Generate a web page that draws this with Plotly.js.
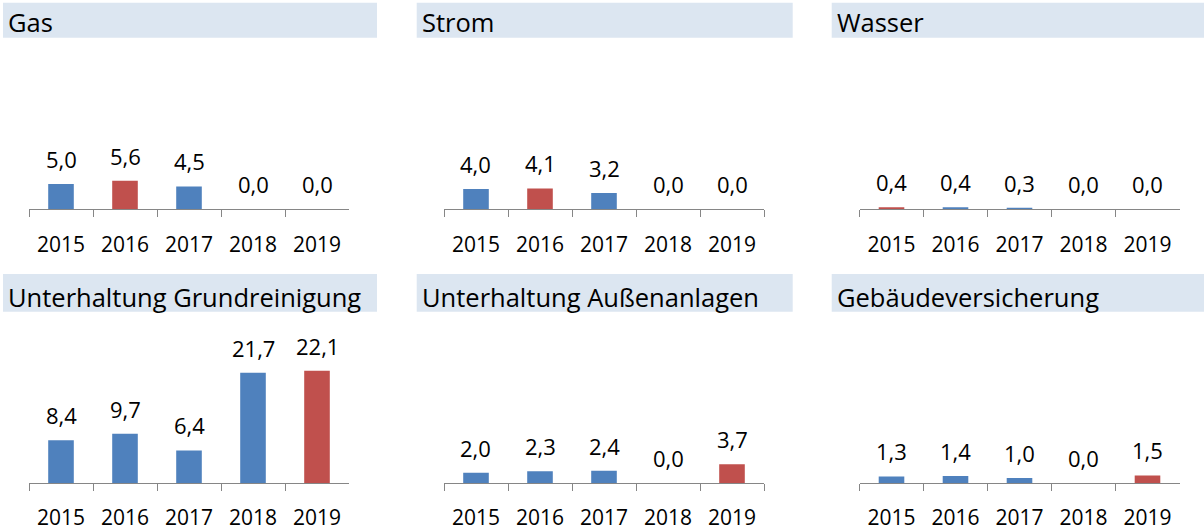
<!DOCTYPE html>
<html>
<head>
<meta charset="utf-8">
<script src="https://cdn.plot.ly/plotly-3.0.1.min.js"></script>
<style>html,body{margin:0;padding:0;background:#fff;}#chart{width:1204px;height:531px;}</style>
</head>
<body>
<div id="chart"></div>
<script>
// ---- data ----
const years = ["2015", "2016", "2017", "2018", "2019"];
const panelTitles = ["Gas", "Strom", "Wasser", "Unterhaltung Grundreinigung", "Unterhaltung Außenanlagen", "Gebäudeversicherung"];
const gas = [5.0, 5.6, 4.5, 0.0, 0.0];
const strom = [4.0, 4.1, 3.2, 0.0, 0.0];
const wasser = [0.4, 0.4, 0.3, 0.0, 0.0];
const grundreinigung = [8.4, 9.7, 6.4, 21.7, 22.1];
const aussenanlagen = [2.0, 2.3, 2.4, 0.0, 3.7];
const versicherung = [1.3, 1.4, 1.0, 0.0, 1.5];
const highlightYear = ["2016", "2016", "2015", "2019", "2019", "2019"];

// ---- layout helpers ----
const W = 1204, H = 531;
const series = [gas, strom, wasser, grundreinigung, aussenanlagen, versicherung];
const BLUE = "#4f81bd", RED = "#c0504d";
const FONT = "'Open Sans', Lato, sans-serif";
const colsPx = [[29, 349], [444, 764], [859.5, 1179.5]];
const rowsPx = [[40.6, 209.3], [314.3, 483]];
const headerX = [[3, 377], [416.7, 792.7], [831.7, 1204]];
const headerY = [[2.7, 37.7], [274, 311.7]];
const titleShift = [-2, -4];
const YMAX = 33.2;

const data = [];
const layout = {
  width: W, height: H,
  margin: {l: 0, r: 0, t: 0, b: 0, pad: 0},
  paper_bgcolor: "#fff", plot_bgcolor: "rgba(0,0,0,0)",
  showlegend: false,
  bargap: 0.6,
  font: {family: FONT, color: "#000"},
  shapes: [], annotations: []
};

series.forEach((vals, i) => {
  const r = Math.floor(i / 3), c = i % 3;
  const n = i + 1;
  const xa = n === 1 ? "x" : "x" + n;
  const ya = n === 1 ? "y" : "y" + n;
  const xkey = n === 1 ? "xaxis" : "xaxis" + n;
  const ykey = n === 1 ? "yaxis" : "yaxis" + n;
  data.push({
    type: "bar", x: years, y: vals, xaxis: xa, yaxis: ya,
    marker: {color: years.map(yr => yr === highlightYear[i] ? RED : BLUE), line: {width: 0}},
    hoverinfo: "x+y"
  });
  layout[xkey] = {
    domain: [colsPx[c][0] / W, colsPx[c][1] / W],
    anchor: ya, type: "category", range: [-0.5, 4.5],
    showline: true, linecolor: "#868686", linewidth: 1,
    ticks: "outside", ticklen: 7, tickcolor: "#868686", tickwidth: 1,
    tickson: "boundaries", ticklabelstandoff: 16,
    showgrid: false, zeroline: false, fixedrange: true,
    tickfont: {family: FONT, size: 21, color: "#000"}
  };
  layout[ykey] = {
    domain: [1 - rowsPx[r][1] / H, 1 - rowsPx[r][0] / H],
    anchor: xa, range: [0, YMAX], fixedrange: true,
    showline: false, showgrid: false, zeroline: false,
    showticklabels: false, ticks: ""
  };
  layout.shapes.push({
    type: "rect", xref: "paper", yref: "paper", layer: "below",
    x0: headerX[c][0] / W, x1: headerX[c][1] / W,
    y0: 1 - headerY[r][1] / H, y1: 1 - headerY[r][0] / H,
    fillcolor: "#dce6f1", line: {width: 0}
  });
  layout.annotations.push({
    xref: "paper", yref: "paper", showarrow: false,
    x: (headerX[c][0] + 3) / W, xanchor: "left",
    y: 1 - ((headerY[r][0] + headerY[r][1]) / 2) / H, yanchor: "middle",
    yshift: titleShift[r],
    text: panelTitles[i], font: {family: FONT, size: 25.5, color: "#000"}
  });
  vals.forEach((v, k) => {
    layout.annotations.push({
      xref: xa, yref: ya, x: k, y: v, showarrow: false,
      xanchor: "center", yanchor: "bottom", yshift: 8,
      text: v.toFixed(1).replace(".", ","),
      font: {family: FONT, size: 22, color: "#000"}
    });
  });
});

Plotly.newPlot("chart", data, layout, {displayModeBar: false, staticPlot: true});
</script>
</body>
</html>
